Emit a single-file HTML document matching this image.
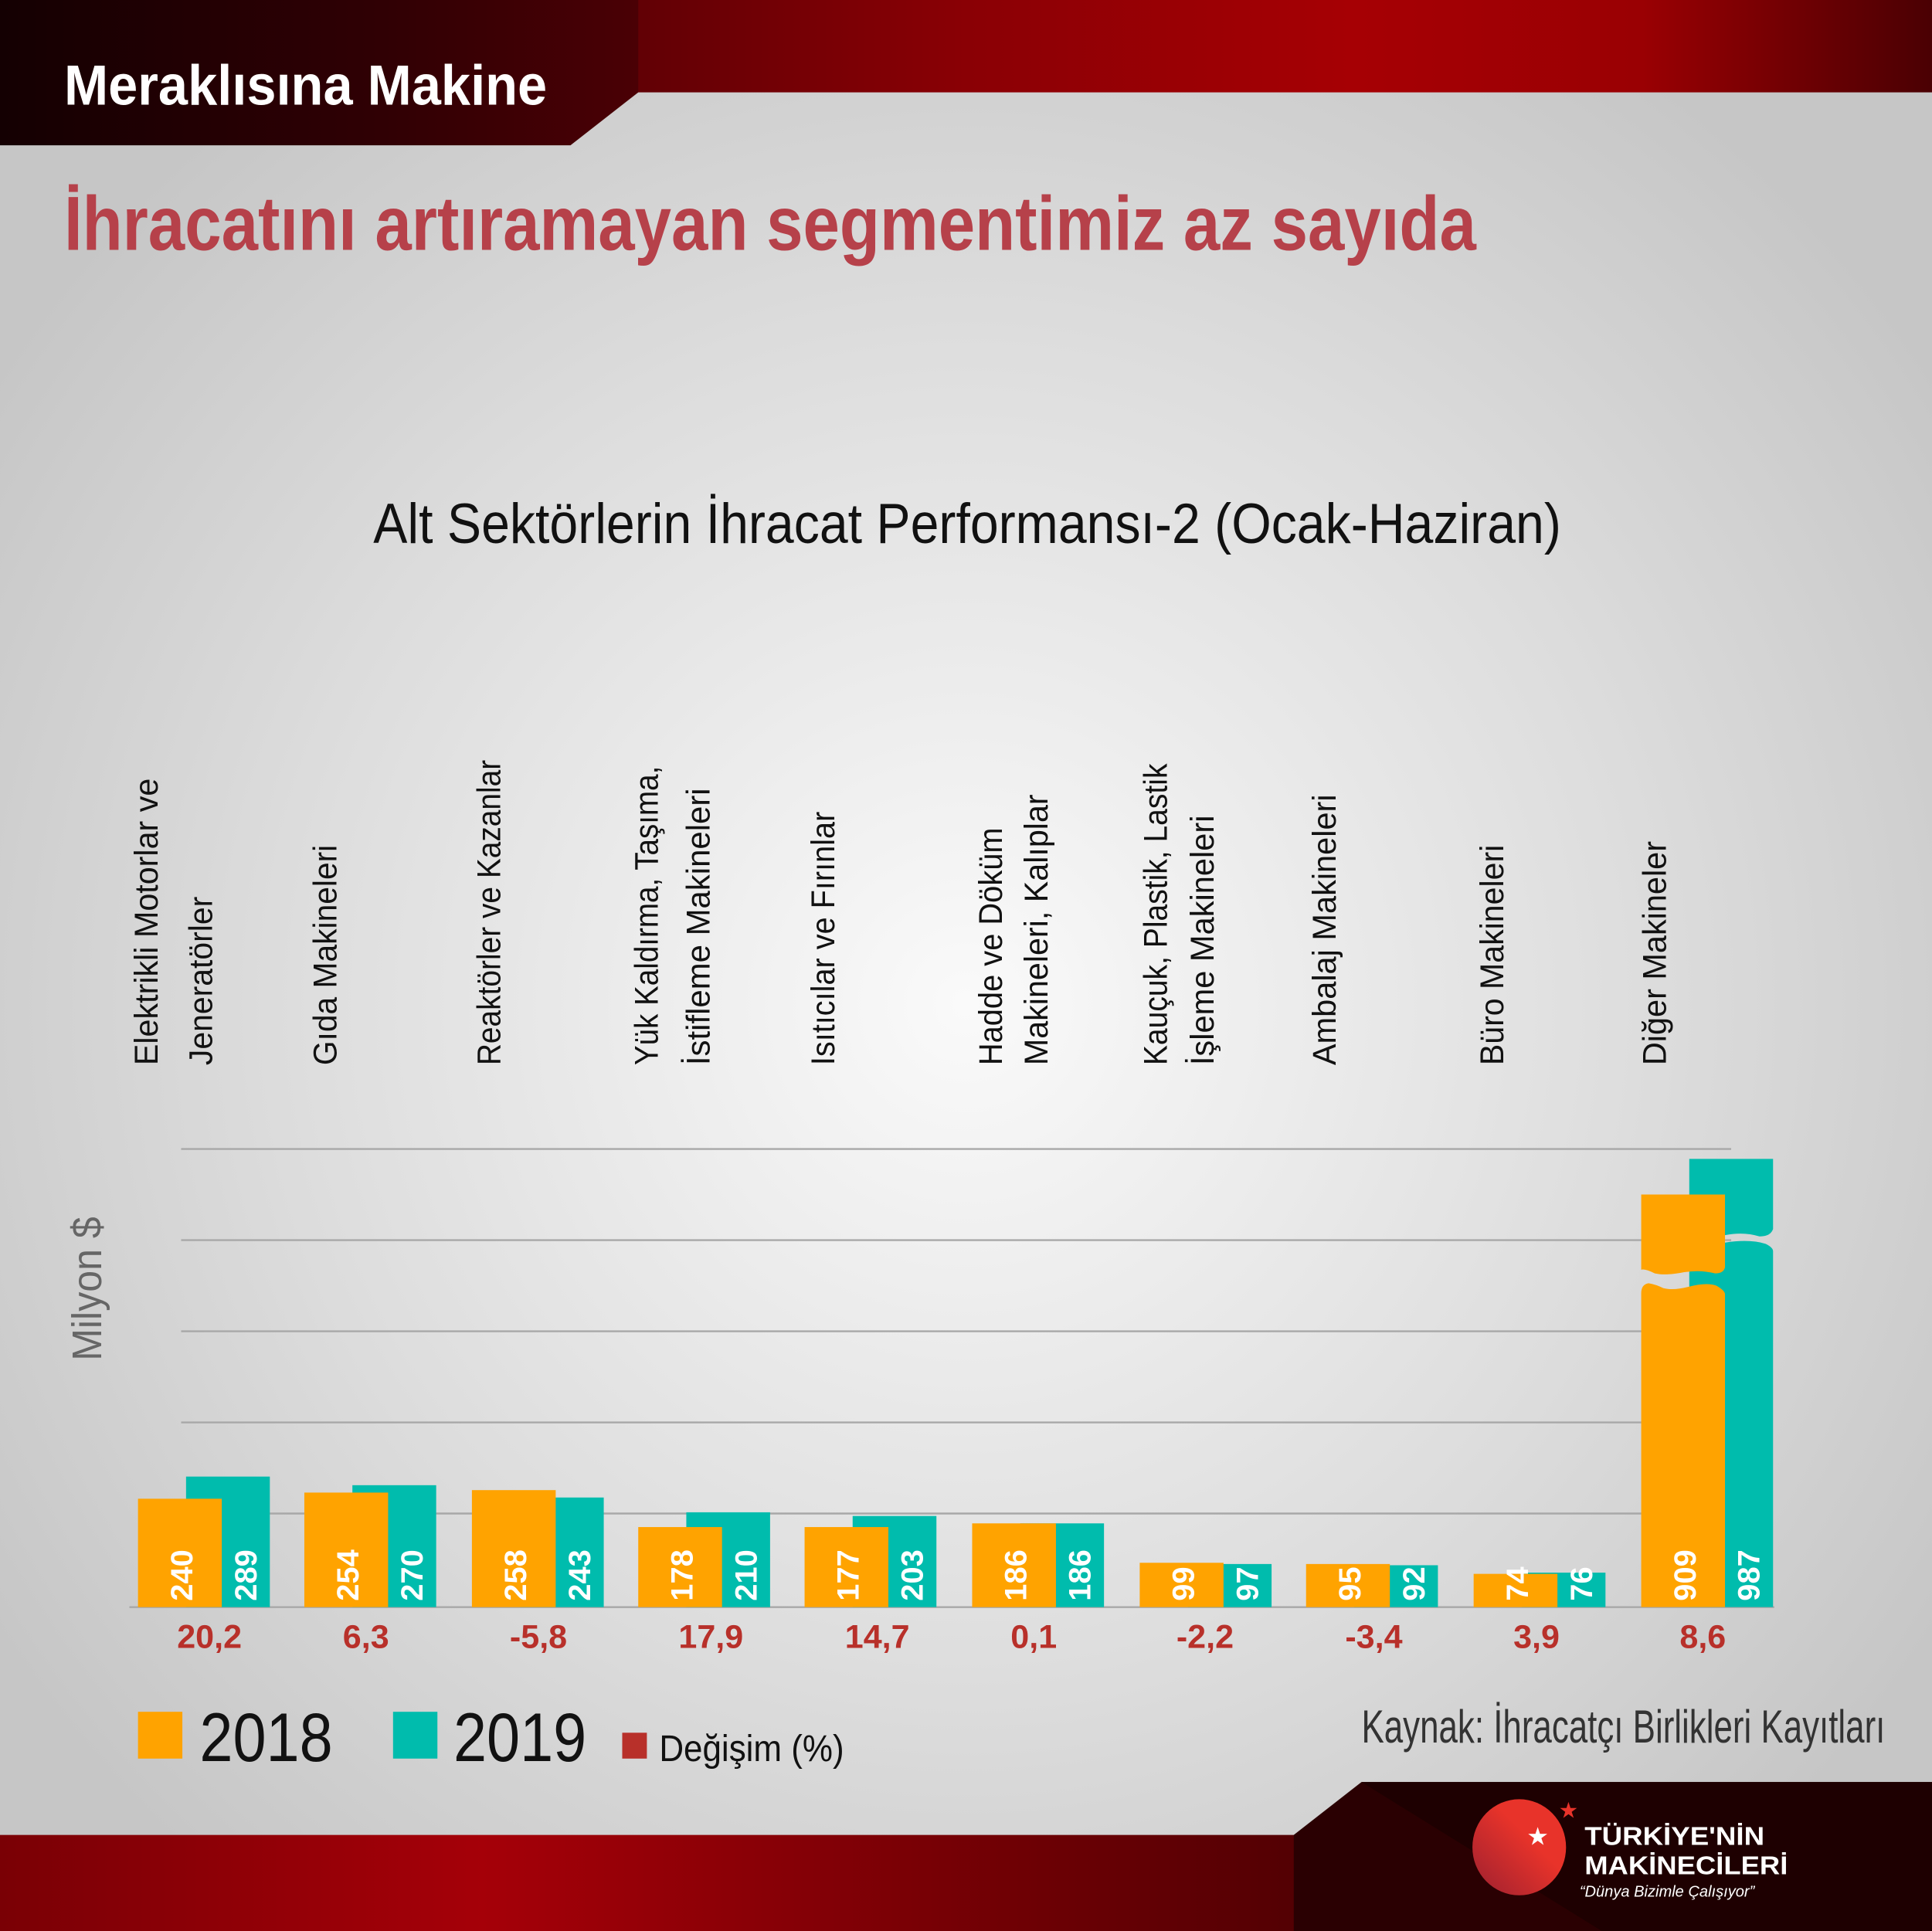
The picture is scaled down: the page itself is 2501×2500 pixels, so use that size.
<!DOCTYPE html>
<html><head><meta charset="utf-8"><style>
html,body{margin:0;padding:0;}
svg{display:block;}
text{font-family:"Liberation Sans",sans-serif;}
</style></head><body>
<svg width="2501" height="2500" viewBox="0 0 1568 1568" preserveAspectRatio="none" xmlns="http://www.w3.org/2000/svg">
<defs>
<radialGradient id="bg" cx="0.5" cy="0.52" r="0.6">
<stop offset="0" stop-color="#fafafa"/><stop offset="0.6" stop-color="#dcdcdc"/><stop offset="1" stop-color="#c6c6c6"/>
</radialGradient>
<linearGradient id="top" x1="0" y1="0" x2="1" y2="0">
<stop offset="0" stop-color="#1a0003"/><stop offset="0.3" stop-color="#5a0005"/><stop offset="0.5" stop-color="#8a0005"/><stop offset="0.7" stop-color="#a60004"/><stop offset="0.85" stop-color="#9a0003"/><stop offset="1" stop-color="#4a0003"/>
</linearGradient>
<linearGradient id="hdr" x1="0" y1="0" x2="1" y2="0">
<stop offset="0" stop-color="#140002"/><stop offset="0.6" stop-color="#300004"/><stop offset="1" stop-color="#4a0005"/>
</linearGradient>
<linearGradient id="bot" x1="0" y1="0" x2="1" y2="0">
<stop offset="0" stop-color="#7a0005"/><stop offset="0.25" stop-color="#a50008"/><stop offset="0.55" stop-color="#6a0004"/><stop offset="0.8" stop-color="#3a0002"/><stop offset="1" stop-color="#1a0001"/>
</linearGradient>
<linearGradient id="logo" x1="1" y1="0" x2="0" y2="1">
<stop offset="0.4" stop-color="#e8332a"/><stop offset="1" stop-color="#9c2030"/>
</linearGradient>
</defs>
<rect width="1568" height="1568" fill="url(#bg)"/>
<!-- header -->
<rect x="0" y="0" width="1568" height="75" fill="url(#top)"/>
<polygon points="0,0 518,0 518,75 463,118 0,118" fill="url(#hdr)"/>
<text x="52" y="85" font-size="46" font-weight="bold" fill="#fff" textLength="392" lengthAdjust="spacingAndGlyphs">Meraklısına Makine</text>
<text x="52" y="203" font-size="62" font-weight="bold" fill="#b6414a" textLength="1146" lengthAdjust="spacingAndGlyphs">İhracatını artıramayan segmentimiz az sayıda</text>
<text x="303" y="441" font-size="46" fill="#111" textLength="964" lengthAdjust="spacingAndGlyphs">Alt Sektörlerin İhracat Performansı-2 (Ocak-Haziran)</text>
<!-- grid -->
<g stroke="#a8a8a8" stroke-width="1.5">
<line x1="147" y1="933" x2="1405" y2="933"/>
<line x1="147" y1="1007" x2="1405" y2="1007"/>
<line x1="147" y1="1081" x2="1405" y2="1081"/>
<line x1="147" y1="1155" x2="1405" y2="1155"/>
<line x1="147" y1="1229" x2="1405" y2="1229"/>
<line x1="105" y1="1305" x2="1440" y2="1305"/>
</g>
<text transform="translate(82,1105) rotate(-90)" font-size="34" fill="#666" textLength="117" lengthAdjust="spacingAndGlyphs">Milyon $</text>
<!-- category labels -->
<g font-size="27" fill="#111">
<text transform="translate(128,865) rotate(-90)" textLength="233" lengthAdjust="spacingAndGlyphs">Elektrikli Motorlar ve</text>
<text transform="translate(172,865) rotate(-90)" textLength="137" lengthAdjust="spacingAndGlyphs">Jeneratörler</text>
<text transform="translate(273,865) rotate(-90)" textLength="179" lengthAdjust="spacingAndGlyphs">Gıda Makineleri</text>
<text transform="translate(406,865) rotate(-90)" textLength="248" lengthAdjust="spacingAndGlyphs">Reaktörler ve Kazanlar</text>
<text transform="translate(534,865) rotate(-90)" textLength="243" lengthAdjust="spacingAndGlyphs">Yük Kaldırma, Taşıma,</text>
<text transform="translate(576,865) rotate(-90)" textLength="225" lengthAdjust="spacingAndGlyphs">İstifleme Makineleri</text>
<text transform="translate(677,865) rotate(-90)" textLength="206" lengthAdjust="spacingAndGlyphs">Isıtıcılar ve Fırınlar</text>
<text transform="translate(813,865) rotate(-90)" textLength="193" lengthAdjust="spacingAndGlyphs">Hadde ve Döküm</text>
<text transform="translate(850,865) rotate(-90)" textLength="220" lengthAdjust="spacingAndGlyphs">Makineleri, Kalıplar</text>
<text transform="translate(947,865) rotate(-90)" textLength="245" lengthAdjust="spacingAndGlyphs">Kauçuk, Plastik, Lastik</text>
<text transform="translate(985,865) rotate(-90)" textLength="203" lengthAdjust="spacingAndGlyphs">İşleme Makineleri</text>
<text transform="translate(1084,865) rotate(-90)" textLength="220" lengthAdjust="spacingAndGlyphs">Ambalaj Makineleri</text>
<text transform="translate(1220,865) rotate(-90)" textLength="179" lengthAdjust="spacingAndGlyphs">Büro Makineleri</text>
<text transform="translate(1352,865) rotate(-90)" textLength="182" lengthAdjust="spacingAndGlyphs">Diğer Makineler</text>
</g>
<!-- bars -->
<g fill="#00bcad">
<rect x="151" y="1199" width="68" height="106"/>
<rect x="286" y="1206" width="68" height="99"/>
<rect x="422" y="1216" width="68" height="89"/>
<rect x="557" y="1228" width="68" height="77"/>
<rect x="692" y="1231" width="68" height="74"/>
<rect x="828" y="1237" width="68" height="68"/>
<rect x="964" y="1270" width="68" height="35"/>
<rect x="1099" y="1271" width="68" height="34"/>
<rect x="1235" y="1277" width="68" height="28"/>
<path d="M1371,941 H1439 V998 Q1437,1004 1428,1004 Q1415,1000 1400,1003 L1371,1005 Z"/>
<path d="M1371,1011 L1400,1009 Q1420,1006 1433,1010 Q1439,1013 1439,1016 V1305 H1371 Z"/>
</g>
<g fill="#ffa300">
<rect x="112" y="1217" width="68" height="88"/>
<rect x="247" y="1212" width="68" height="93"/>
<rect x="383" y="1210" width="68" height="95"/>
<rect x="518" y="1240" width="68" height="65"/>
<rect x="653" y="1240" width="68" height="65"/>
<rect x="789" y="1237" width="68" height="68"/>
<rect x="925" y="1269" width="68" height="36"/>
<rect x="1060" y="1270" width="68" height="35"/>
<rect x="1196" y="1278" width="68" height="27"/>
<path d="M1332,970 H1400 V1029 Q1399,1034 1392,1034 Q1380,1031 1367,1033 Q1352,1036 1343,1034 Q1335,1030 1332,1031 Z"/>
<path d="M1332,1050 Q1332,1043 1338,1042 Q1344,1043 1350,1046 Q1358,1048 1370,1045 Q1385,1041 1393,1044 Q1400,1048 1400,1051 V1305 H1332 Z"/>
</g>
<!-- value labels -->
<g font-size="25" font-weight="bold" fill="#fff">
<text transform="translate(156,1300) rotate(-90)">240</text>
<text transform="translate(208,1300) rotate(-90)">289</text>
<text transform="translate(291,1300) rotate(-90)">254</text>
<text transform="translate(343,1300) rotate(-90)">270</text>
<text transform="translate(427,1300) rotate(-90)">258</text>
<text transform="translate(479,1300) rotate(-90)">243</text>
<text transform="translate(562,1300) rotate(-90)">178</text>
<text transform="translate(614,1300) rotate(-90)">210</text>
<text transform="translate(697,1300) rotate(-90)">177</text>
<text transform="translate(749,1300) rotate(-90)">203</text>
<text transform="translate(833,1300) rotate(-90)">186</text>
<text transform="translate(885,1300) rotate(-90)">186</text>
<text transform="translate(969,1300) rotate(-90)">99</text>
<text transform="translate(1021,1300) rotate(-90)">97</text>
<text transform="translate(1104,1300) rotate(-90)">95</text>
<text transform="translate(1156,1300) rotate(-90)">92</text>
<text transform="translate(1240,1300) rotate(-90)">74</text>
<text transform="translate(1292,1300) rotate(-90)">76</text>
<text transform="translate(1376,1300) rotate(-90)">909</text>
<text transform="translate(1428,1300) rotate(-90)">987</text>
</g>
<!-- percent labels -->
<g font-size="27" font-weight="bold" fill="#b8302a" text-anchor="middle">
<text x="170" y="1338">20,2</text>
<text x="297" y="1338">6,3</text>
<text x="437" y="1338">-5,8</text>
<text x="577" y="1338">17,9</text>
<text x="712" y="1338">14,7</text>
<text x="839" y="1338">0,1</text>
<text x="978" y="1338">-2,2</text>
<text x="1115" y="1338">-3,4</text>
<text x="1247" y="1338">3,9</text>
<text x="1382" y="1338">8,6</text>
</g>
<!-- legend -->
<rect x="112" y="1390" width="36" height="38" fill="#ffa300"/>
<text x="162" y="1430" font-size="56" fill="#111" textLength="108" lengthAdjust="spacingAndGlyphs">2018</text>
<rect x="319" y="1390" width="36" height="38" fill="#00bcad"/>
<text x="368" y="1430" font-size="56" fill="#111" textLength="108" lengthAdjust="spacingAndGlyphs">2019</text>
<rect x="505" y="1407" width="20" height="21" fill="#b8302a"/>
<text x="535" y="1430" font-size="30" fill="#111" textLength="150" lengthAdjust="spacingAndGlyphs">Değişim (%)</text>
<text x="1105" y="1415" font-size="38" fill="#333" textLength="425" lengthAdjust="spacingAndGlyphs" font-weight="300">Kaynak: İhracatçı Birlikleri Kayıtları</text>
<!-- footer -->
<rect x="0" y="1490" width="1568" height="78" fill="url(#bot)"/>
<polygon points="1105,1447 1568,1447 1568,1568 1050,1568 1050,1490" fill="#2a0002"/>
<polygon points="1105,1447 1568,1447 1568,1568 1300,1568" fill="#1e0001"/>
<ellipse cx="1233" cy="1500" rx="38" ry="39" fill="url(#logo)"/>
<text x="1248" y="1498" font-size="20" fill="#fff" text-anchor="middle">★</text>
<text x="1273" y="1476" font-size="18" fill="#e8332a" text-anchor="middle">★</text>
<text x="1286" y="1498" font-size="21" font-weight="bold" fill="#fff" textLength="146" lengthAdjust="spacingAndGlyphs">TÜRKİYE'NİN</text>
<text x="1286" y="1522" font-size="21" font-weight="bold" fill="#fff" textLength="165" lengthAdjust="spacingAndGlyphs">MAKİNECİLERİ</text>
<text x="1282" y="1540" font-size="13" font-style="italic" fill="#fff" textLength="142" lengthAdjust="spacingAndGlyphs">“Dünya Bizimle Çalışıyor”</text>
</svg>
</body></html>
